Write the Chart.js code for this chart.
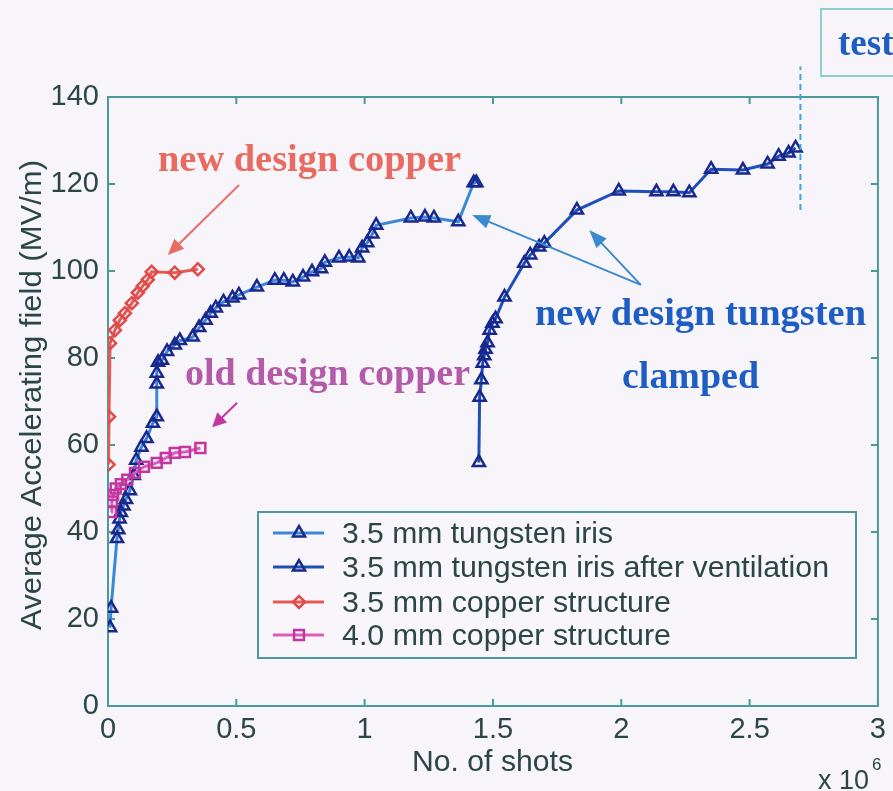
<!DOCTYPE html>
<html>
<head>
<meta charset="utf-8">
<script src="https://cdn.jsdelivr.net/npm/chart.js@4/dist/chart.umd.min.js"></script>
<style>
  html, body { margin: 0; padding: 0; background: #f8f5fa; }
  #wrap { width: 893px; height: 791px; }
  canvas { display: block; }
</style>
</head>
<body>
<div id="wrap"><canvas id="c" width="893" height="791"></canvas></div>
<script>
// Axis ticks
const xTicks = [0, 0.5, 1, 1.5, 2, 2.5, 3];
const yTicks = [0, 20, 40, 60, 80, 100, 120, 140];

// Legend names
const seriesNames = [
  '3.5 mm tungsten iris',
  '3.5 mm tungsten iris after ventilation',
  '3.5 mm copper structure',
  '4.0 mm copper structure'
];

// 3.5 mm tungsten iris (shots in millions, field in MV/m)
const tungstenShots = [0.008, 0.012, 0.035, 0.04, 0.045, 0.05, 0.06, 0.07, 0.085, 0.1,
  0.11, 0.13, 0.15, 0.175, 0.19, 0.19, 0.19, 0.195, 0.21, 0.23,
  0.26, 0.28, 0.33, 0.355, 0.38, 0.40, 0.42, 0.45, 0.485, 0.51,
  0.58, 0.65, 0.685, 0.72, 0.76, 0.795, 0.83, 0.845, 0.90, 0.94,
  0.975, 0.99, 1.01, 1.03, 1.045, 1.18, 1.235, 1.27, 1.365, 1.425, 1.435];
const tungstenField = [18, 22.5, 38.5, 40.5, 43, 44.5, 46, 47.5, 49.5, 53,
  56.5, 59.5, 61.5, 65, 66.5, 74, 76.5, 79, 79.5, 81.5,
  83, 84, 84.8, 87, 88.7, 90.3, 91.5, 92.9, 93.8, 94.5,
  96.3, 97.9, 97.9, 97.5, 98.6, 99.8, 100.5, 102, 103, 103.2,
  103, 105.3, 106.5, 108.5, 110.5, 112.2, 112.4, 112.2, 111.3, 120.3, 120.3];

// 3.5 mm tungsten iris after ventilation
const ventShots = [1.445, 1.448, 1.455, 1.46, 1.466, 1.471, 1.479, 1.487, 1.498, 1.51,
  1.545, 1.622, 1.645, 1.68, 1.70, 1.827, 1.99, 2.137, 2.203, 2.265,
  2.35, 2.474, 2.57, 2.613, 2.652, 2.679];
const ventField = [56, 71, 75, 78.8, 80.5, 82, 83.5, 86.4, 88, 89,
  94, 101.8, 103.7, 105.5, 106.4, 114, 118.4, 118.2, 118.2, 118,
  123.4, 123.2, 124.6, 126.4, 127.1, 128.3];

// 3.5 mm copper structure
const copper35Shots = [0.002, 0.004, 0.008, 0.027, 0.046, 0.066, 0.093, 0.116, 0.135, 0.155, 0.17, 0.26, 0.35];
const copper35Field = [55.5, 66.5, 83.4, 86.4, 88.7, 90.3, 92.6, 95, 96.5, 98, 99.8, 99.6, 100.4];

// 4.0 mm copper structure
const copper40Shots = [0.012, 0.015, 0.02, 0.03, 0.05, 0.075, 0.105, 0.14, 0.19, 0.225, 0.26, 0.3, 0.36];
const copper40Field = [44.6, 47, 48.5, 50, 51, 52, 53.6, 55, 55.9, 57, 58.2, 58.4, 59.3];

// End of the test run
const testEndShots = 2.698;
const testEndField = [114, 147];

const pts = (xs, ys) => xs.map((x, i) => ({ x: x, y: ys[i] }));

const C = {
  axis: '#4a9a9a',
  text: '#2b4646',
  tungLine: '#3a88d8',
  ventLine: '#1f4fb8',
  triMark: '#18288e',
  red: '#e65a55',
  redMark: '#e04a48',
  mag: '#dc5cbc',
  magMark: '#c2369e',
  dash: '#3aa6e0',
  blueText: '#1e5ec4',
  redText: '#e86a60',
  magText: '#b45aa8',
  blueArrow: '#3a8ad0'
};

const styles = [
  { line: C.tungLine, mark: C.triMark, pointStyle: 'triangle', radius: 7 },
  { line: C.ventLine, mark: C.triMark, pointStyle: 'triangle', radius: 7 },
  { line: C.red, mark: C.redMark, pointStyle: 'rectRot', radius: 6 },
  { line: C.mag, mark: C.magMark, pointStyle: 'rect', radius: 7 }
];

const seriesData = [
  pts(tungstenShots, tungstenField),
  pts(ventShots, ventField),
  pts(copper35Shots, copper35Field),
  pts(copper40Shots, copper40Field)
];

const datasets = seriesData.map((d, i) => ({
  label: seriesNames[i],
  data: d,
  borderColor: styles[i].line,
  borderWidth: 3,
  pointStyle: styles[i].pointStyle,
  pointRadius: styles[i].radius,
  pointBorderColor: styles[i].mark,
  pointBorderWidth: 2.5,
  pointBackgroundColor: 'rgba(0,0,0,0)',
  showLine: true,
  tension: 0,
  order: 4 - i
}));

datasets.push({
  label: 'test end',
  data: [{ x: testEndShots, y: testEndField[0] }, { x: testEndShots, y: testEndField[1] }],
  borderColor: C.dash,
  borderWidth: 2,
  borderDash: [6, 4],
  pointRadius: 0,
  showLine: true,
  clip: false
});

function fitText(ctx, text, x, y, width, font, color) {
  ctx.save();
  ctx.font = font;
  ctx.fillStyle = color;
  ctx.textBaseline = 'alphabetic';
  ctx.textAlign = 'left';
  const w = ctx.measureText(text).width;
  ctx.translate(x, y);
  ctx.scale(width / w, 1);
  ctx.fillText(text, 0, 0);
  ctx.restore();
}

function arrow(ctx, x0, y0, x1, y1, color, len, half) {
  const a = Math.atan2(y1 - y0, x1 - x0);
  ctx.save();
  ctx.strokeStyle = color;
  ctx.fillStyle = color;
  ctx.lineWidth = 2;
  ctx.beginPath();
  ctx.moveTo(x0, y0);
  ctx.lineTo(x1 - Math.cos(a) * len * 0.8, y1 - Math.sin(a) * len * 0.8);
  ctx.stroke();
  ctx.beginPath();
  ctx.moveTo(x1, y1);
  ctx.lineTo(x1 - Math.cos(a) * len - Math.sin(a) * half, y1 - Math.sin(a) * len + Math.cos(a) * half);
  ctx.lineTo(x1 - Math.cos(a) * len + Math.sin(a) * half, y1 - Math.sin(a) * len - Math.cos(a) * half);
  ctx.closePath();
  ctx.fill();
  ctx.restore();
}

// Axes box with inward ticks (drawn beneath the curves)
const framePlugin = {
  id: 'frame',
  beforeDatasetsDraw(chart) {
    const { ctx, chartArea: a, scales: { x, y } } = chart;
    ctx.save();
    ctx.strokeStyle = C.axis;
    ctx.lineWidth = 2;
    ctx.strokeRect(a.left, a.top, a.right - a.left, a.bottom - a.top);
    ctx.beginPath();
    xTicks.forEach(v => {
      const px = x.getPixelForValue(v);
      ctx.moveTo(px, a.bottom); ctx.lineTo(px, a.bottom - 7);
      ctx.moveTo(px, a.top); ctx.lineTo(px, a.top + 7);
    });
    yTicks.forEach(v => {
      const py = y.getPixelForValue(v);
      ctx.moveTo(a.left, py); ctx.lineTo(a.left + 7, py);
      ctx.moveTo(a.right, py); ctx.lineTo(a.right - 7, py);
    });
    ctx.stroke();
    ctx.restore();
  },
  afterDraw(chart) {
    const { ctx, scales: { x, y } } = chart;
    const X = v => x.getPixelForValue(v);
    const Y = v => y.getPixelForValue(v);

    // Axis titles
    fitText(ctx, 'No. of shots', 412, 771, 161, '29px "Liberation Sans", Arial, sans-serif', C.text);
    ctx.save();
    ctx.translate(41, 630);
    ctx.rotate(-Math.PI / 2);
    fitText(ctx, 'Average Accelerating field (MV/m)', 0, 0, 470, '29px "Liberation Sans", Arial, sans-serif', C.text);
    ctx.restore();
    ctx.save();
    ctx.fillStyle = C.text;
    ctx.font = '27px "Liberation Sans", Arial, sans-serif';
    ctx.fillText('x 10', 818, 789);
    ctx.font = '17px "Liberation Sans", Arial, sans-serif';
    ctx.fillText('6', 872, 770);
    ctx.restore();

    // Annotations
    const serif = 'bold 37px "Liberation Serif", "Times New Roman", serif';
    fitText(ctx, 'new design copper', 158, 171, 303, serif, C.redText);
    fitText(ctx, 'old design copper', 185, 385, 285, serif, C.magText);
    fitText(ctx, 'new design tungsten', 535, 325, 331, serif, C.blueText);
    fitText(ctx, 'clamped', 622, 388, 137, serif, C.blueText);

    arrow(ctx, X(0.511), Y(119.8), X(0.233), Y(103.7), C.redText, 16, 7);
    arrow(ctx, X(0.503), Y(69.7), X(0.406), Y(64.1), C.magMark, 14, 7);
    arrow(ctx, X(2.076), Y(96.8), X(1.419), Y(112.9), C.blueArrow, 18, 7);
    arrow(ctx, X(2.076), Y(96.8), X(1.875), Y(109.4), C.blueArrow, 18, 7);

    // "test" tag in the corner
    ctx.save();
    ctx.strokeStyle = '#8ccfcf';
    ctx.lineWidth = 2;
    ctx.strokeRect(821, 9, 90, 67);
    ctx.restore();
    ctx.save();
    ctx.font = serif;
    ctx.fillStyle = C.blueText;
    ctx.fillText('test', 838, 55);
    ctx.restore();

    // Legend
    const L = { left: 258, top: 512, right: 856, bottom: 658 };
    ctx.save();
    ctx.fillStyle = '#f9f6fb';
    ctx.fillRect(L.left, L.top, L.right - L.left, L.bottom - L.top);
    ctx.strokeStyle = C.axis;
    ctx.lineWidth = 2;
    ctx.strokeRect(L.left, L.top, L.right - L.left, L.bottom - L.top);
    const rows = [533, 567, 602, 635];
    const textW = [271, 487, 329, 329];
    seriesNames.forEach((name, i) => {
      const ry = rows[i];
      const st = styles[i];
      ctx.strokeStyle = st.line;
      ctx.lineWidth = 3;
      ctx.beginPath();
      ctx.moveTo(273, ry); ctx.lineTo(324, ry);
      ctx.stroke();
      ctx.strokeStyle = st.mark;
      ctx.fillStyle = 'rgba(0,0,0,0)';
      ctx.lineWidth = 2.5;
      Chart.helpers.drawPoint(ctx, { pointStyle: st.pointStyle, radius: st.radius, borderWidth: 2.5, rotation: 0 }, 299, ry);
      fitText(ctx, name, 342, ry + 10, textW[i], '30px "Liberation Sans", Arial, sans-serif', C.text);
    });
    ctx.restore();
  }
};

new Chart(document.getElementById('c'), {
  type: 'scatter',
  data: { datasets: datasets },
  plugins: [framePlugin],
  options: {
    responsive: false,
    animation: false,
    devicePixelRatio: 1,
    layout: { padding: { top: 97, right: 9, left: 0, bottom: 0 } },
    plugins: { legend: { display: false }, tooltip: { enabled: false } },
    scales: {
      x: {
        type: 'linear', min: 0, max: 3,
        afterBuildTicks: s => { s.ticks = xTicks.map(v => ({ value: v })); },
        afterFit: s => { s.height = 85; },
        grid: { display: false, drawTicks: false },
        border: { display: false },
        ticks: {
          color: C.text, padding: 7, maxRotation: 0, autoSkip: false,
          font: { family: '"Liberation Sans", Arial, sans-serif', size: 29 },
          callback: v => String(v)
        }
      },
      y: {
        type: 'linear', min: 0, max: 140,
        afterBuildTicks: s => { s.ticks = yTicks.map(v => ({ value: v })); },
        afterFit: s => { s.width = 108; },
        grid: { display: false, drawTicks: false },
        border: { display: false },
        ticks: {
          color: C.text, padding: 9, autoSkip: false,
          font: { family: '"Liberation Sans", Arial, sans-serif', size: 29 },
          callback: v => String(v)
        }
      }
    }
  }
});
</script>
</body>
</html>
